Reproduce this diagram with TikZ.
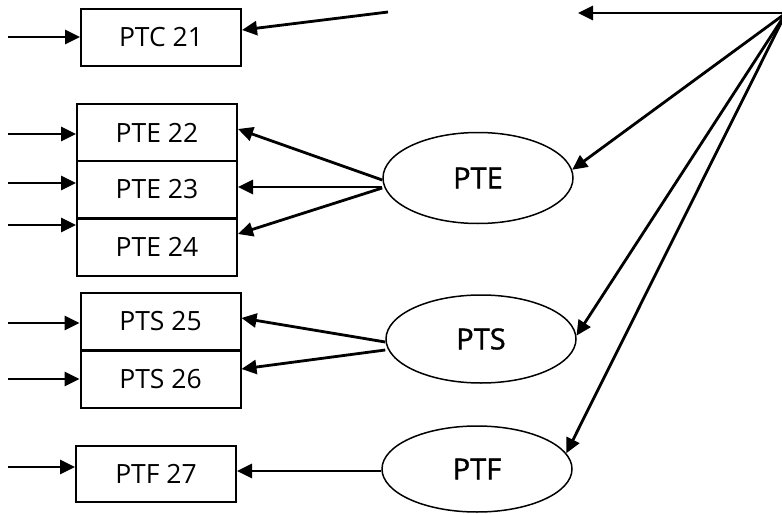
\documentclass[tikz,border=0pt]{standalone}
\usepackage{fontspec}
\setmainfont{Open Sans}
\newfontfamily\ovalfont[FakeBold=1.2]{Open Sans}
\usetikzlibrary{arrows.meta,shapes.geometric}
\begin{document}
\begin{tikzpicture}[x=1pt,y=-1pt,
  box/.style={draw,line width=2pt,minimum width=160pt,minimum height=57pt,
    inner sep=0pt,font=\fontsize{26.5}{30}\selectfont},
  oval/.style={draw,ellipse,line width=1.5pt,minimum width=190pt,minimum height=89pt,
    inner sep=0pt,font=\ovalfont\fontsize{29}{32}\selectfont},
  link/.style={line width=2.8pt,-{Triangle[length=15pt,width=14pt]}}]
\useasboundingbox (0,0) rectangle (782,514);

% left-hand boxes
\node[box] (ptc21) at (161,37.5) {PTC 21};
\node[box] (pte22) at (157,132.5) {PTE 22};
\node[box] (pte23) at (157,189.5) {PTE 23};
\node[box] (pte24) at (157,247) {PTE 24};
\node[box] (pts25) at (160.5,321.5) {PTS 25};
\node[box] (pts26) at (160.5,379) {PTS 26};
\node[box,minimum height=56pt] (ptf27) at (156,474) {PTF 27};

% groups
\node[oval,minimum height=91pt] (pte) at (478,178) {PTE};
\node[oval,minimum height=88pt] (pts) at (481,339) {PTS};
\node[oval,minimum height=86pt] (ptf) at (477,469) {PTF};

% free ends of the open connectors
\coordinate (in21) at (8,37);
\coordinate (in22) at (8,134);
\coordinate (in23) at (8,183);
\coordinate (in24) at (8,225);
\coordinate (in25) at (8,323);
\coordinate (in26) at (8,379);
\coordinate (in27) at (8,467);
\coordinate (src21) at (388,12);
\coordinate (hub) at (786,13);
\coordinate (topend) at (578,13);

% incoming arrows on the left
\foreach \i/\b in {in21/ptc21,in22/pte22,in23/pte23,in24/pte24,in25/pts25,in26/pts26,in27/ptf27}
  \draw[link] (\i) -- (\i -| \b.west);

% arrow into PTC 21
\draw[link] (src21) -- ([yshift=7.5pt]ptc21.east);

% PTE fan-out
\draw[link] ([yshift=-2pt]pte.west) -- ([yshift=3.5pt]pte22.east);
\draw[link] ([yshift=-9pt]pte.west) -- ([yshift=2.5pt]pte23.east);
\draw[link] ([yshift=-10pt]pte.west) -- ([yshift=13pt]pte24.east);

% PTS fan-out
\draw[link] ([yshift=-3pt]pts.west) -- ([yshift=3.5pt]pts25.east);
\draw[link] ([yshift=-11pt]pts.west) -- ([yshift=10pt]pts26.east);

% PTF
\draw[link] ([yshift=-2pt]ptf.west) -- ([yshift=3pt]ptf27.east);

% connectors from the upper right corner
\draw[link] (hub) -- (topend);
\draw[link] (hub) -- (pte.5);
\draw[link] (hub) -- (pts.2);
\draw[link] (hub) -- (ptf.10);
\end{tikzpicture}
\end{document}
